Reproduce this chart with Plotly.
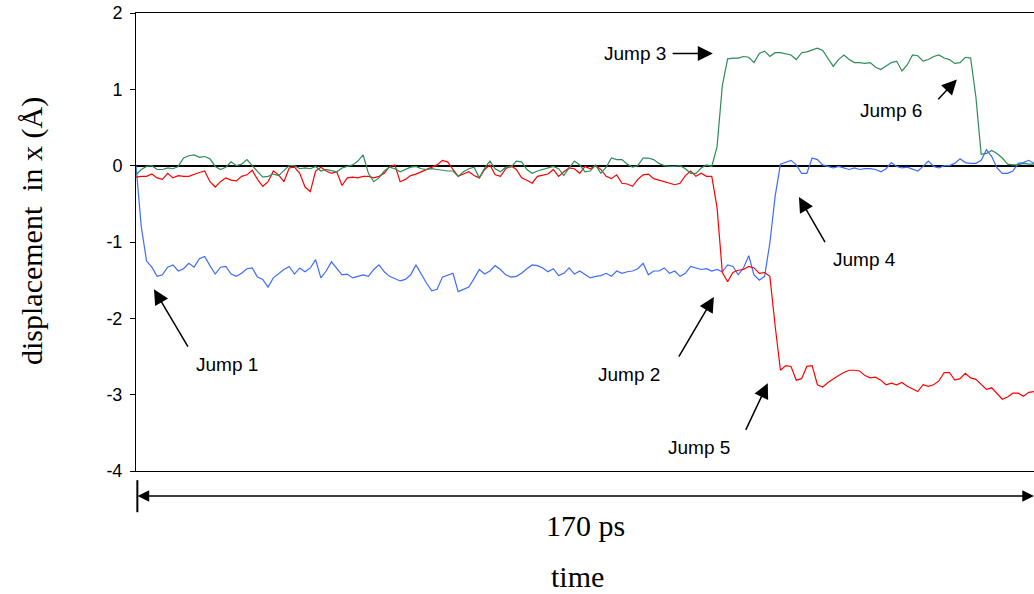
import plotly.graph_objects as go

# ---------------- data (time in ps, displacement in Angstrom) ----------------
time_ps = list(range(0, 171))

blue_dx = [
    0.00, -0.80, -1.25, -1.33, -1.45, -1.43, -1.33, -1.30, -1.38, -1.35,
    -1.28, -1.33, -1.22, -1.19, -1.31, -1.42, -1.33, -1.32, -1.42, -1.45,
    -1.41, -1.35, -1.34, -1.46, -1.49, -1.59, -1.47, -1.41, -1.36, -1.32,
    -1.42, -1.34, -1.39, -1.34, -1.23, -1.47, -1.38, -1.26, -1.35, -1.43,
    -1.42, -1.47, -1.45, -1.43, -1.45, -1.36, -1.30, -1.39, -1.45, -1.48,
    -1.51, -1.49, -1.43, -1.30, -1.43, -1.54, -1.64, -1.62, -1.46, -1.43,
    -1.41, -1.65, -1.62, -1.59, -1.48, -1.36, -1.42, -1.38, -1.31, -1.36,
    -1.43, -1.46, -1.45, -1.41, -1.35, -1.30, -1.31, -1.34, -1.39, -1.35,
    -1.44, -1.41, -1.34, -1.42, -1.38, -1.43, -1.47, -1.45, -1.44, -1.41,
    -1.45, -1.38, -1.41, -1.39, -1.38, -1.35, -1.28, -1.43, -1.38, -1.38,
    -1.34, -1.41, -1.38, -1.45, -1.41, -1.32, -1.34, -1.36, -1.35, -1.38,
    -1.36, -1.39, -1.30, -1.32, -1.43, -1.34, -1.18, -1.43, -1.50, -1.45,
    -1.01, -0.40, 0.02, 0.04, 0.07, 0.01, -0.10, -0.10, 0.10, 0.08,
    0.01, -0.01, -0.03, -0.01, -0.03, -0.05, -0.03, -0.05, -0.04, -0.04,
    -0.05, -0.08, -0.04, 0.04, -0.01, -0.03, -0.02, -0.05, -0.07, -0.01,
    0.06, -0.01, -0.03, 0.00, 0.00, 0.03, 0.09, 0.04, 0.03, 0.03,
    0.07, 0.21, 0.12, -0.03, -0.10, -0.10, -0.07, 0.03, 0.04, 0.07, 0.03,
]

red_dx = [
    -0.15, -0.14, -0.14, -0.11, -0.16, -0.18, -0.10, -0.16, -0.13, -0.14,
    -0.14, -0.12, -0.09, -0.07, -0.21, -0.28, -0.21, -0.16, -0.19, -0.20,
    -0.14, -0.12, -0.06, -0.18, -0.27, -0.21, -0.07, -0.12, -0.21, -0.03,
    -0.02, -0.10, -0.28, -0.34, -0.07, -0.02, -0.07, -0.10, -0.08, -0.26,
    -0.16, -0.15, -0.16, -0.14, -0.14, -0.16, -0.14, -0.10, -0.01, 0.01,
    -0.21, -0.18, -0.13, -0.11, -0.08, -0.05, -0.01, 0.01, 0.07, 0.05,
    -0.05, -0.14, -0.11, -0.08, -0.13, -0.16, -0.05, 0.01, -0.12, -0.14,
    -0.04, 0.00, -0.05, -0.16, -0.19, -0.23, -0.14, -0.12, -0.11, -0.05,
    -0.14, -0.08, -0.03, -0.04, -0.10, -0.01, -0.04, 0.00, -0.05, -0.14,
    -0.17, -0.12, -0.23, -0.24, -0.27, -0.18, -0.12, -0.11, -0.17, -0.19,
    -0.21, -0.23, -0.25, -0.23, -0.13, -0.07, -0.14, -0.10, -0.14, -0.14,
    -0.55, -1.40, -1.52, -1.40, -1.37, -1.36, -1.32, -1.34, -1.41, -1.40,
    -1.45, -2.10, -2.68, -2.62, -2.63, -2.81, -2.79, -2.63, -2.62, -2.87,
    -2.90, -2.84, -2.79, -2.75, -2.71, -2.68, -2.68, -2.69, -2.75, -2.78,
    -2.77, -2.81, -2.87, -2.85, -2.87, -2.84, -2.89, -2.93, -2.96, -2.87,
    -2.89, -2.87, -2.82, -2.71, -2.71, -2.81, -2.79, -2.72, -2.78, -2.80,
    -2.87, -2.93, -2.91, -2.99, -3.06, -3.03, -2.98, -2.98, -3.02, -2.97, -2.96,
]

green_dx = [
    -0.12, -0.05, -0.01, 0.00, -0.05, -0.05, -0.03, -0.04, -0.01, 0.10,
    0.13, 0.14, 0.11, 0.12, 0.09, -0.01, -0.05, -0.02, 0.05, 0.00,
    0.02, 0.08, 0.00, -0.08, -0.15, -0.14, -0.11, -0.13, -0.07, 0.00,
    0.00, -0.04, -0.03, -0.04, -0.01, -0.07, -0.05, -0.07, -0.08, -0.03,
    -0.01, 0.01, 0.06, 0.14, -0.10, -0.21, -0.16, -0.07, -0.02, -0.04,
    -0.08, -0.05, -0.02, -0.01, -0.04, -0.05, -0.04, -0.05, -0.06, -0.07,
    -0.07, -0.14, -0.08, -0.04, -0.02, -0.16, -0.03, 0.06, -0.04, -0.08,
    -0.02, -0.02, 0.06, 0.05, -0.05, -0.10, -0.07, -0.05, -0.03, -0.01,
    -0.04, -0.13, -0.03, 0.06, 0.01, -0.08, -0.07, 0.01, -0.10, -0.02,
    0.10, 0.08, 0.08, 0.02, -0.02, 0.00, 0.10, 0.10, 0.08, 0.03,
    0.00, -0.01, -0.01, 0.00, -0.04, -0.10, -0.10, -0.03, 0.01, -0.01,
    0.25, 1.05, 1.40, 1.41, 1.41, 1.43, 1.42, 1.35, 1.47, 1.50,
    1.43, 1.48, 1.48, 1.47, 1.45, 1.39, 1.48, 1.49, 1.51, 1.54,
    1.51, 1.41, 1.30, 1.39, 1.45, 1.39, 1.35, 1.35, 1.34, 1.35,
    1.29, 1.26, 1.31, 1.35, 1.37, 1.24, 1.32, 1.45, 1.44, 1.37,
    1.39, 1.43, 1.45, 1.41, 1.39, 1.34, 1.35, 1.42, 1.41, 0.90,
    0.15, 0.16, 0.20, 0.16, 0.10, 0.02, 0.01, 0.01, 0.03, 0.02, 0.02,
]

y_tick_values = [2, 1, 0, -1, -2, -3, -4]
y_tick_labels = ["2", "1", "0", "-1", "-2", "-3", "-4"]

jump_labels = ["Jump 1", "Jump 2", "Jump 3", "Jump 4", "Jump 5", "Jump 6"]

# ---------------- figure ----------------
SANS = "Liberation Sans, Arial, sans-serif"
SERIF = "Liberation Serif, Times New Roman, serif"

fig = go.Figure()
fig.add_trace(go.Scatter(x=time_ps, y=blue_dx, mode="lines",
                         line=dict(color="#3D6BFF", width=1.2), name="blue"))
fig.add_trace(go.Scatter(x=time_ps, y=red_dx, mode="lines",
                         line=dict(color="#FF0000", width=1.2), name="red"))
fig.add_trace(go.Scatter(x=time_ps, y=green_dx, mode="lines",
                         line=dict(color="#2E8B57", width=1.2), name="green"))

fig.update_layout(
    width=1034, height=594,
    margin=dict(l=136, r=0, t=13, b=123),
    plot_bgcolor="white", paper_bgcolor="white",
    showlegend=False,
)
fig.update_xaxes(range=[0, 170], showline=True, linecolor="black", linewidth=1,
                 mirror=True, showgrid=False, zeroline=False,
                 showticklabels=False, ticks="")
fig.update_yaxes(range=[-4, 2], tickvals=y_tick_values, ticktext=y_tick_labels,
                 ticks="outside", ticklen=5, tickcolor="black", tickwidth=1,
                 showline=True, linecolor="black", linewidth=1, showgrid=False,
                 zeroline=True, zerolinecolor="black", zerolinewidth=2,
                 tickfont=dict(family=SANS, size=18, color="black"),
                 ticklabelstandoff=4)

# Jump annotations: (text x, text y, tail x, tail y, head x, head y)
jump_layout = [
    (17.2, -2.61, 10.0, -2.39, 3.4, -1.62),
    (93.3, -2.74, 102.6, -2.52, 109.4, -1.72),
    (94.5, 1.47, 101.3, 1.47, 109.2, 1.47),
    (138.0, -1.23, 130.6, -1.02, 125.5, -0.41),
    (106.6, -3.69, 115.3, -3.48, 119.6, -2.85),
    (142.9, 0.72, 151.6, 0.85, 155.4, 1.13),
]
for label, (tx, ty, ax_, ay_, hx, hy) in zip(jump_labels, jump_layout):
    fig.add_annotation(x=tx, y=ty, xref="x", yref="y", text=label,
                       xanchor="center", yanchor="middle",
                       showarrow=False, font=dict(family=SANS, size=19, color="black"))
    fig.add_annotation(x=hx, y=hy, xref="x", yref="y", ax=ax_, ay=ay_,
                       axref="x", ayref="y", text="", showarrow=True,
                       arrowhead=2, arrowsize=2, arrowwidth=1.5,
                       arrowcolor="black", standoff=0, startstandoff=0)

# Time-span double arrow below the plot
fig.add_annotation(x=170, y=-0.0546, xref="x", yref="paper",
                   ax=0, axref="x", ay=0, ayref="pixel", text="",
                   showarrow=True, arrowhead=2, startarrowhead=2,
                   arrowside="end+start", arrowsize=1.8, startarrowsize=1.8,
                   arrowwidth=1.3, arrowcolor="black", standoff=0, startstandoff=0)
fig.add_shape(type="line", xref="paper", yref="paper", x0=0.0015, x1=0.0015,
              y0=-0.02, y1=-0.09, line=dict(color="black", width=2))

fig.add_annotation(x=85, y=-0.118, xref="x", yref="paper", text="170 ps",
                   xanchor="center", yanchor="middle",
                   showarrow=False, font=dict(family=SERIF, size=30, color="black"))
fig.add_annotation(x=83.5, y=-0.231, xref="x", yref="paper", text="time",
                   xanchor="center", yanchor="middle",
                   showarrow=False, font=dict(family=SERIF, size=30, color="black"))
fig.add_annotation(x=0, xshift=-104, y=0.524, xref="paper", yref="paper",
                   text="displacement\u00a0 in x (Å)", textangle=-90,
                   xanchor="center", yanchor="middle",
                   showarrow=False, font=dict(family=SERIF, size=30, color="black"))

fig.write_html("out.html")
